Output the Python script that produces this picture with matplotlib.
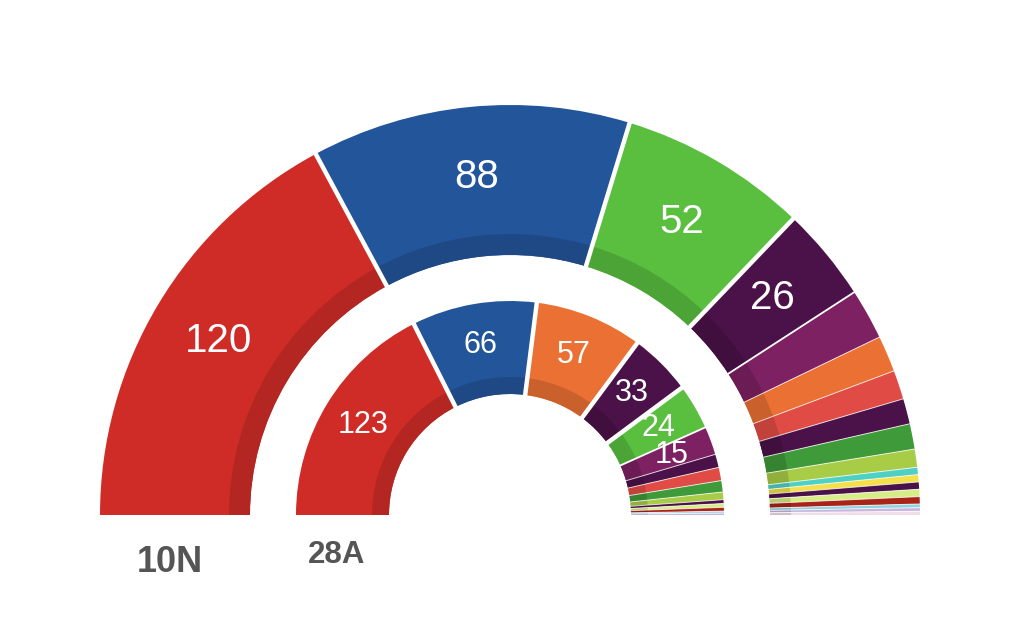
import numpy as np
import matplotlib
matplotlib.use("Agg")
import matplotlib.pyplot as plt
from matplotlib.patches import Wedge
from matplotlib.colors import to_rgb

# escaños 10N (anillo exterior) y 28A (anillo interior)
seats_10n = [120, 88, 52, 26, 14, 10, 8, 7, 7, 5, 2, 2, 2, 2, 2, 1, 1, 1]
colors_10n = ['#d02c27', '#23559b', '#5abf3f', '#4a1248', '#7e2163', '#eb7033',
              '#e14b45', '#4a1248', '#3f9a3a', '#a8cc45', '#4fd0c5', '#f5e04a',
              '#4a1248', '#d6ee85', '#a82318', '#8fd2e0', '#c9b6e0', '#f1dde8']
seats_28a = [123, 66, 57, 33, 24, 15, 7, 7, 6, 4, 2, 2, 2, 1, 1]
colors_28a = ['#d02c27', '#23559b', '#eb7033', '#4a1248', '#5abf3f', '#7e2163',
              '#4a1248', '#e14b45', '#3f9a3a', '#a8cc45', '#4a1248', '#d6ee85',
              '#a82318', '#8fd2e0', '#c9b6e0']
ring_names = ['10N', '28A']

total = 350
cx, cy = 510, 125

def darker(c, f=0.86):
    r, g, b = to_rgb(c)
    return (r*f, g*f, b*f)

def draw_ring(ax, seats, colors, r_out, r_in, band, r_lab, fs):
    cum = np.concatenate([[0], np.cumsum(seats)])
    for i, s in enumerate(seats):
        t2 = 180 - cum[i]*180/total
        t1 = 180 - cum[i+1]*180/total
        ax.add_patch(Wedge((cx, cy), r_out, t1, t2, width=r_out-r_in,
                           facecolor=colors[i], edgecolor='none'))
        ax.add_patch(Wedge((cx, cy), r_in+band, t1, t2, width=band,
                           facecolor=darker(colors[i]), edgecolor='none'))
        if s >= 15:
            a = np.deg2rad((t1+t2)/2)
            ax.text(cx + r_lab*np.cos(a), cy + r_lab*np.sin(a), str(s),
                    color='white', fontsize=fs, ha='center', va='center',
                    family='Liberation Sans')
    # separadores blancos
    for i in range(1, len(seats)):
        a = np.deg2rad(180 - cum[i]*180/total)
        big = min(seats[i-1], seats[i])
        if big >= 20:
            lw, al = 3.2, 1
        elif big >= 12:
            lw, al = 1.3, 1
        else:
            lw, al = 0.7, 0.75
        ax.plot([cx + (r_in-2)*np.cos(a), cx + (r_out+2)*np.cos(a)],
                [cy + (r_in-2)*np.sin(a), cy + (r_out+2)*np.sin(a)],
                color='white', lw=lw, alpha=al, solid_capstyle='butt')

fig = plt.figure(figsize=(10.24, 6.4), dpi=100)
ax = fig.add_axes([0, 0, 1, 1])
ax.set_xlim(0, 1024)
ax.set_ylim(0, 640)
ax.axis('off')

draw_ring(ax, seats_10n, colors_10n, 410, 260, 21, 340, 29)
draw_ring(ax, seats_28a, colors_28a, 214, 121, 17, 172, 22)

ax.text(170, 640-572, ring_names[0], color='#555555', fontsize=26, fontweight='bold',
        ha='center', va='baseline', family='Liberation Sans')
ax.text(337, 640-563, ring_names[1], color='#555555', fontsize=22.5, fontweight='bold',
        ha='center', va='baseline', family='Liberation Sans')

fig.savefig('out.png', dpi=100, facecolor='white')
